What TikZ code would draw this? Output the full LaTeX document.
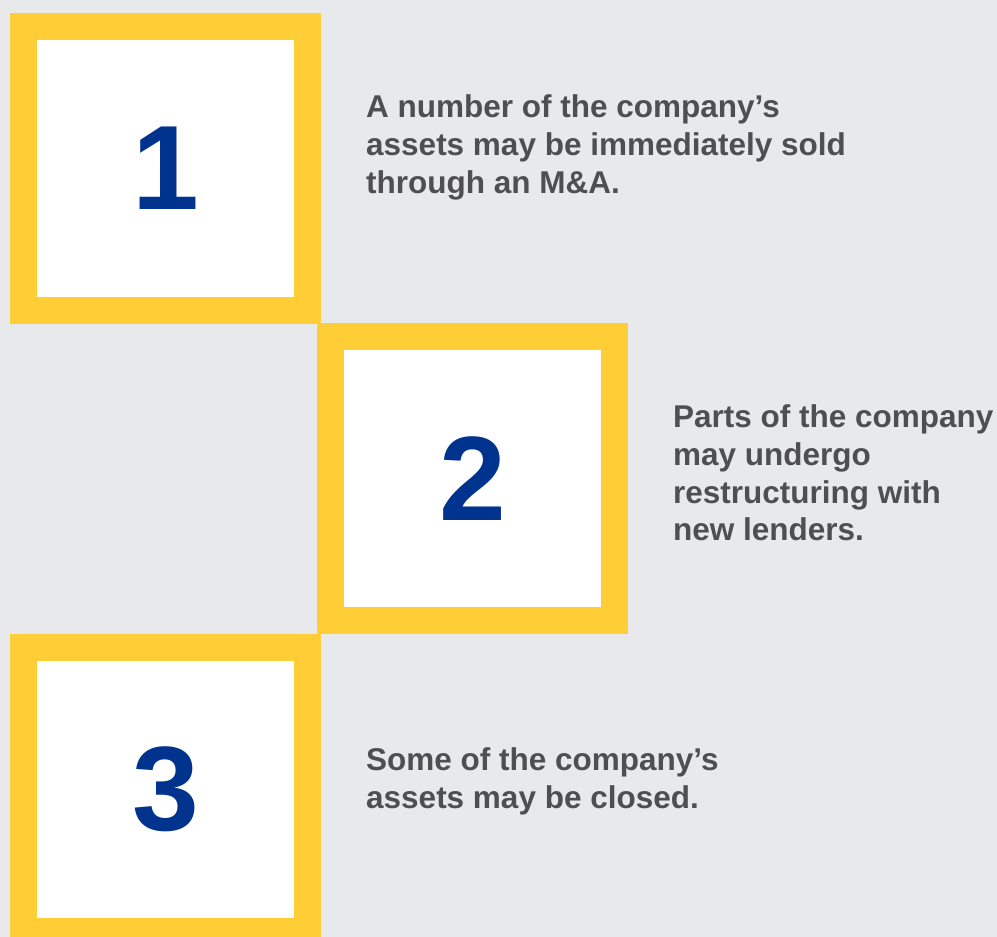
\documentclass[tikz,border=0pt]{standalone}
\usepackage{fontspec}
\setmainfont{Liberation Sans}
\usetikzlibrary{positioning}

\definecolor{kyellow}{HTML}{FFCD36}
\definecolor{kblue}{HTML}{00338D}
\definecolor{kgray}{HTML}{4F4F51}
\definecolor{kback}{HTML}{E8E9EB}

\begin{document}
\begin{tikzpicture}[x=1pt,y=-1pt,
numbox/.style={rectangle, fill=white, draw=kyellow, line width=27pt, minimum size=284pt, inner sep=0pt, text=kblue, font=\fontsize{120}{120}\selectfont\bfseries},
note/.style={anchor=north west, inner sep=0pt, align=left, text=kgray, font=\fontsize{31.5}{37.8}\selectfont\bfseries}] % numbox is the yellow framed square, note is the grey text beside it
\fill[kback] (0,0) rectangle (997,937);
\useasboundingbox (0,0) rectangle (997,937);

\node[numbox](B1) at (165.5,168.5){1};
\node[numbox](B2)[below right=-1pt and -4pt of B1]{2};
\node[numbox](B3)[below left=0pt and -4pt of B2]{3};

% the texts, placed at the top left of their first line
\node[note](T1) at (366,94.5){A number of the company’s\\assets may be immediately sold\\through an M\&A.};
\node[note](T2) at (673,404.5){Parts of the company\\may undergo\\restructuring with\\new lenders.};
\node[note](T3) at (366,747.5){Some of the company’s\\assets may be closed.};

\end{tikzpicture}
\end{document}
